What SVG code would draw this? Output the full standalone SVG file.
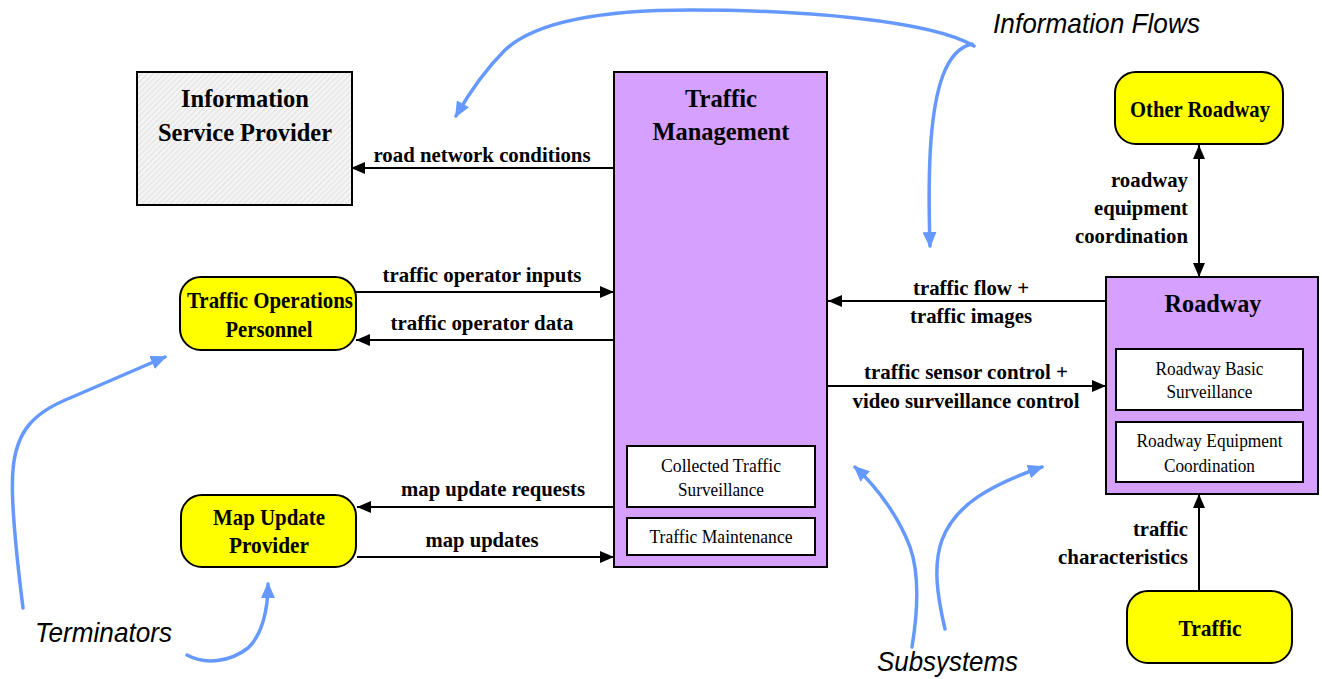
<svg xmlns="http://www.w3.org/2000/svg" width="1322" height="679" viewBox="0 0 1322 679">
<style>
.box{stroke:#000;stroke-width:2}
.sub{fill:#D6A0FF}
.term{fill:#FFFF00}
.inner{fill:#fff;stroke:#000;stroke-width:2}
.title{font-family:"Liberation Serif","Times New Roman",serif;font-weight:bold;font-size:26px;text-anchor:middle;fill:#000}
.tname{font-family:"Liberation Serif","Times New Roman",serif;font-weight:bold;font-size:23px;text-anchor:middle;fill:#000}
.ilbl{font-family:"Liberation Serif","Times New Roman",serif;font-size:18.5px;text-anchor:middle;fill:#000}
.flow{font-family:"Liberation Serif","Times New Roman",serif;font-weight:bold;font-size:22px;text-anchor:middle;fill:#000}
.flowr{font-family:"Liberation Serif","Times New Roman",serif;font-weight:bold;font-size:22px;text-anchor:end;fill:#000}
.conn{stroke:#000;stroke-width:2;fill:none}
.note{stroke:#6699FF;stroke-width:3.5;fill:none;stroke-linecap:round}
.ital{font-family:"Liberation Sans",Arial,sans-serif;font-style:italic;font-size:28px;fill:#000}
</style>
<defs>
<pattern id="hatch" width="4" height="4" patternUnits="userSpaceOnUse" patternTransform="rotate(45)">
<rect width="4" height="4" fill="#f4f4f4"/>
<line x1="0" y1="0" x2="0" y2="4" stroke="#d4d4d4" stroke-width="1.2"/>
</pattern>
<marker id="ah" viewBox="0 0 14 12" refX="14" refY="6" markerWidth="14" markerHeight="12" markerUnits="userSpaceOnUse" orient="auto-start-reverse">
<path d="M0,0 L14,6 L0,12 z" fill="#000"/>
</marker>
<marker id="bh" viewBox="0 0 16 14" refX="14" refY="7" markerWidth="16" markerHeight="14" markerUnits="userSpaceOnUse" orient="auto">
<path d="M0,0 L16,7 L0,14 z" fill="#6699FF"/>
</marker>
</defs>
<rect width="1322" height="679" fill="#fff"/>

<g id="information-service-provider">
<rect class="box" x="137" y="72" width="215" height="133" fill="url(#hatch)"/>
<text class="title" x="245" y="107" textLength="128" lengthAdjust="spacingAndGlyphs">Information</text>
<text class="title" x="245" y="141" textLength="174" lengthAdjust="spacingAndGlyphs">Service Provider</text>
</g>

<g id="traffic-management">
<rect class="box sub" x="614" y="72" width="213" height="495"/>
<text class="title" x="721" y="107" textLength="72" lengthAdjust="spacingAndGlyphs">Traffic</text>
<text class="title" x="721" y="140" textLength="137" lengthAdjust="spacingAndGlyphs">Management</text>
<rect class="inner" x="627" y="446" width="188" height="61"/>
<text class="ilbl" x="721" y="472" textLength="120" lengthAdjust="spacingAndGlyphs">Collected Traffic</text>
<text class="ilbl" x="721" y="496" textLength="86" lengthAdjust="spacingAndGlyphs">Surveillance</text>
<rect class="inner" x="627" y="518" width="188" height="37"/>
<text class="ilbl" x="721" y="543" textLength="143" lengthAdjust="spacingAndGlyphs">Traffic Maintenance</text>
</g>

<g id="other-roadway">
<rect class="box term" x="1115" y="72" width="168" height="72" rx="21"/>
<text class="tname" x="1200" y="117" textLength="140" lengthAdjust="spacingAndGlyphs">Other Roadway</text>
</g>

<g id="roadway">
<rect class="box sub" x="1106" y="277" width="212" height="217"/>
<text class="title" x="1213" y="312" textLength="97" lengthAdjust="spacingAndGlyphs">Roadway</text>
<rect class="inner" x="1116" y="349" width="187" height="61"/>
<text class="ilbl" x="1209.5" y="375" textLength="108" lengthAdjust="spacingAndGlyphs">Roadway Basic</text>
<text class="ilbl" x="1209.5" y="398" textLength="86" lengthAdjust="spacingAndGlyphs">Surveillance</text>
<rect class="inner" x="1116" y="422" width="187" height="60"/>
<text class="ilbl" x="1209.5" y="447" textLength="146" lengthAdjust="spacingAndGlyphs">Roadway Equipment</text>
<text class="ilbl" x="1209.5" y="472" textLength="91" lengthAdjust="spacingAndGlyphs">Coordination</text>
</g>

<g id="traffic-operations-personnel">
<rect class="box term" x="180" y="277" width="176" height="73" rx="21"/>
<text class="tname" x="270" y="308" textLength="166" lengthAdjust="spacingAndGlyphs">Traffic Operations</text>
<text class="tname" x="269" y="337" textLength="87" lengthAdjust="spacingAndGlyphs">Personnel</text>
</g>

<g id="map-update-provider">
<rect class="box term" x="181" y="495" width="175" height="72" rx="21"/>
<text class="tname" x="269" y="525" textLength="112" lengthAdjust="spacingAndGlyphs">Map Update</text>
<text class="tname" x="269" y="553" textLength="80" lengthAdjust="spacingAndGlyphs">Provider</text>
</g>

<g id="traffic">
<rect class="box term" x="1127" y="591" width="165" height="72" rx="21"/>
<text class="tname" x="1210" y="636" textLength="63" lengthAdjust="spacingAndGlyphs">Traffic</text>
</g>

<g id="connectors">
<line class="conn" x1="614" y1="168" x2="351" y2="168" marker-end="url(#ah)"/>
<text class="flow" x="482" y="162" textLength="217" lengthAdjust="spacingAndGlyphs">road network conditions</text>
<line class="conn" x1="356" y1="292" x2="614" y2="292" marker-end="url(#ah)"/>
<text class="flow" x="482" y="282" textLength="199" lengthAdjust="spacingAndGlyphs">traffic operator inputs</text>
<line class="conn" x1="614" y1="340" x2="356" y2="340" marker-end="url(#ah)"/>
<text class="flow" x="482" y="330" textLength="183" lengthAdjust="spacingAndGlyphs">traffic operator data</text>
<line class="conn" x1="614" y1="507" x2="357" y2="507" marker-end="url(#ah)"/>
<text class="flow" x="493" y="496" textLength="184" lengthAdjust="spacingAndGlyphs">map update requests</text>
<line class="conn" x1="357" y1="557" x2="614" y2="557" marker-end="url(#ah)"/>
<text class="flow" x="482" y="547" textLength="113" lengthAdjust="spacingAndGlyphs">map updates</text>
<line class="conn" x1="1106" y1="301" x2="828" y2="301" marker-end="url(#ah)"/>
<text class="flow" x="971" y="295" textLength="116" lengthAdjust="spacingAndGlyphs">traffic flow +</text>
<text class="flow" x="971" y="323" textLength="122" lengthAdjust="spacingAndGlyphs">traffic images</text>
<line class="conn" x1="828" y1="386" x2="1106" y2="386" marker-end="url(#ah)"/>
<text class="flow" x="966" y="379" textLength="204" lengthAdjust="spacingAndGlyphs">traffic sensor control +</text>
<text class="flow" x="966" y="408" textLength="227" lengthAdjust="spacingAndGlyphs">video surveillance control</text>
<line class="conn" x1="1199" y1="145" x2="1199" y2="277" marker-start="url(#ah)" marker-end="url(#ah)"/>
<text class="flowr" x="1188" y="187" textLength="77" lengthAdjust="spacingAndGlyphs">roadway</text>
<text class="flowr" x="1188" y="215" textLength="94" lengthAdjust="spacingAndGlyphs">equipment</text>
<text class="flowr" x="1188" y="243" textLength="113" lengthAdjust="spacingAndGlyphs">coordination</text>
<line class="conn" x1="1199" y1="591" x2="1199" y2="494" marker-end="url(#ah)"/>
<text class="flowr" x="1188" y="536" textLength="55" lengthAdjust="spacingAndGlyphs">traffic</text>
<text class="flowr" x="1188" y="564" textLength="130" lengthAdjust="spacingAndGlyphs">characteristics</text>
</g>

<g id="annotations">
<path class="note" d="M974,46 C930,20 800,10 690,10 C600,10 535,22 505,50 C485,70 468,95 456,116" marker-end="url(#bh)"/>
<path class="note" d="M972,44 C945,50 935,90 931,140 C928,180 929,215 930,246" marker-end="url(#bh)"/>
<text class="ital" x="993" y="33" textLength="207" lengthAdjust="spacingAndGlyphs">Information Flows</text>
<path class="note" d="M23,608 C17,560 10,500 13,470 C16,430 35,412 70,398 C100,385 130,372 165,357" marker-end="url(#bh)"/>
<path class="note" d="M187,655 C205,665 230,662 248,648 C262,635 268,610 268,584" marker-end="url(#bh)"/>
<text class="ital" x="35" y="642" textLength="137" lengthAdjust="spacingAndGlyphs">Terminators</text>
<path class="note" d="M912,647 C918,610 920,575 910,547 C900,520 880,490 855,467" marker-end="url(#bh)"/>
<path class="note" d="M945,629 C937,595 933,565 942,540 C955,505 990,485 1042,467" marker-end="url(#bh)"/>
<text class="ital" x="877" y="671" textLength="141" lengthAdjust="spacingAndGlyphs">Subsystems</text>
</g>
</svg>
